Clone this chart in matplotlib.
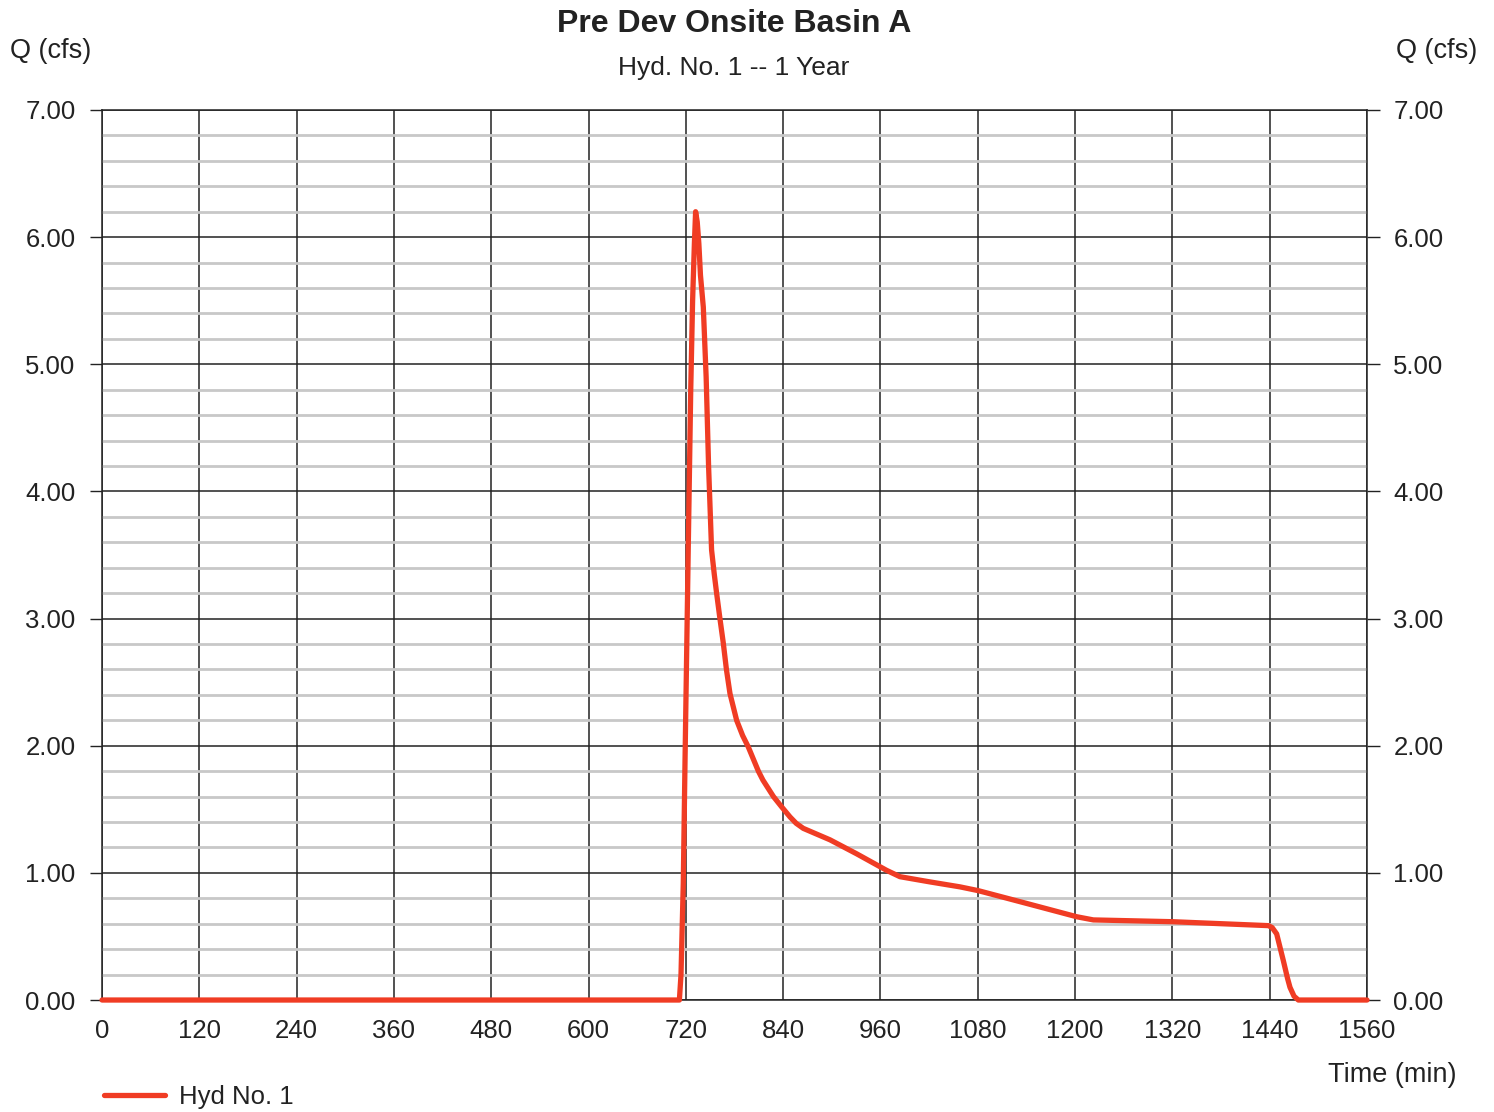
import matplotlib
matplotlib.use("Agg")
import matplotlib.pyplot as plt
from matplotlib.ticker import MultipleLocator, NullLocator

plt.rcParams['font.family'] = ['Liberation Sans', 'DejaVu Sans']

# hydrograph (time in min, flow in cfs)
time_min = [0, 700, 712, 714, 716.8, 719, 722.9, 726, 728.3, 730.5, 732, 734, 736,
            738, 741.5, 745, 748, 751.7, 755, 757.9, 762, 766.1, 770, 774.4, 782.6,
            790, 797, 809.4, 815, 828, 838, 848.4, 856, 864.8, 897.7, 930.6, 967.5,
            984, 1020, 1058, 1080.7, 1140, 1202, 1222.5, 1320, 1438.4, 1443, 1448.6,
            1456.8, 1462, 1465, 1470, 1475.3, 1560]
flow_cfs = [0, 0, 0, 0.2, 0.92, 1.9, 3.54, 4.8, 5.5, 5.95, 6.2, 6.12, 5.95,
            5.7, 5.45, 4.9, 4.2, 3.54, 3.35, 3.2, 3.0, 2.81, 2.6, 2.41, 2.2,
            2.08, 1.99, 1.8, 1.73, 1.6, 1.52, 1.44, 1.39, 1.35, 1.26, 1.15, 1.02,
            0.97, 0.93, 0.89, 0.86, 0.76, 0.655, 0.63, 0.616, 0.585, 0.57, 0.52,
            0.31, 0.17, 0.10, 0.03, 0, 0]

x_ticks = [0, 120, 240, 360, 480, 600, 720, 840, 960, 1080, 1200, 1320, 1440, 1560]
y_ticks = [0, 1, 2, 3, 4, 5, 6, 7]

fig = plt.figure(figsize=(14.94, 11.12), dpi=100)
ax = fig.add_axes([0.0683, 0.1007, 0.8467, 0.8004])

ax.set_xlim(0, 1560)
ax.set_ylim(0, 7)
ax.set_xticks(x_ticks)
ax.set_xticklabels([str(t) for t in x_ticks])
ax.set_yticks(y_ticks)
ax.set_yticklabels(['%.2f' % v for v in y_ticks])
ax.yaxis.set_minor_locator(MultipleLocator(0.2))
ax.xaxis.set_minor_locator(NullLocator())

ax.grid(which='minor', axis='y', color='#c8c8c8', linewidth=2.0)
ax.grid(which='major', axis='both', color='#222222', linewidth=1.1)
ax.set_axisbelow(True)

for s in ax.spines.values():
    s.set_color('#222222')
    s.set_linewidth(1.1)

ax.tick_params(axis='y', which='major', direction='out', length=9, width=1.0,
               color='#222222', labelsize=18.5, labelcolor='#222222', pad=10,
               left=True, right=True, labelleft=True, labelright=True)
ax.tick_params(axis='y', which='minor', length=0)
ax.tick_params(axis='x', which='major', length=0, labelsize=18.5,
               labelcolor='#222222', pad=14)

line, = ax.plot(time_min, flow_cfs, color='#f03c24', linewidth=3.8,
                solid_capstyle='round', solid_joinstyle='round', clip_on=False,
                zorder=5)

fig.text(0.4913, 0.978, 'Pre Dev Onsite Basin A', ha='center', va='center',
         fontsize=23, fontweight='bold', color='#222222')
fig.text(0.4913, 0.939, 'Hyd. No. 1 -- 1 Year', ha='center', va='center',
         fontsize=19, color='#222222')
fig.text(0.0067, 0.954, 'Q (cfs)', ha='left', va='center', fontsize=19.5,
         color='#222222')
fig.text(0.9886, 0.954, 'Q (cfs)', ha='right', va='center', fontsize=19.5,
         color='#222222')
fig.text(0.9746, 0.033, 'Time (min)', ha='right', va='center', fontsize=19.5,
         color='#222222')

ax.legend([line], ['Hyd No. 1'], loc='upper left', bbox_to_anchor=(0.0696, 0.024),
          bbox_transform=fig.transFigure, frameon=False, fontsize=18.5,
          handlelength=2.38, handletextpad=0.55, borderaxespad=0, borderpad=0,
          labelcolor='#222222')

fig.savefig('out.png', dpi=100)
